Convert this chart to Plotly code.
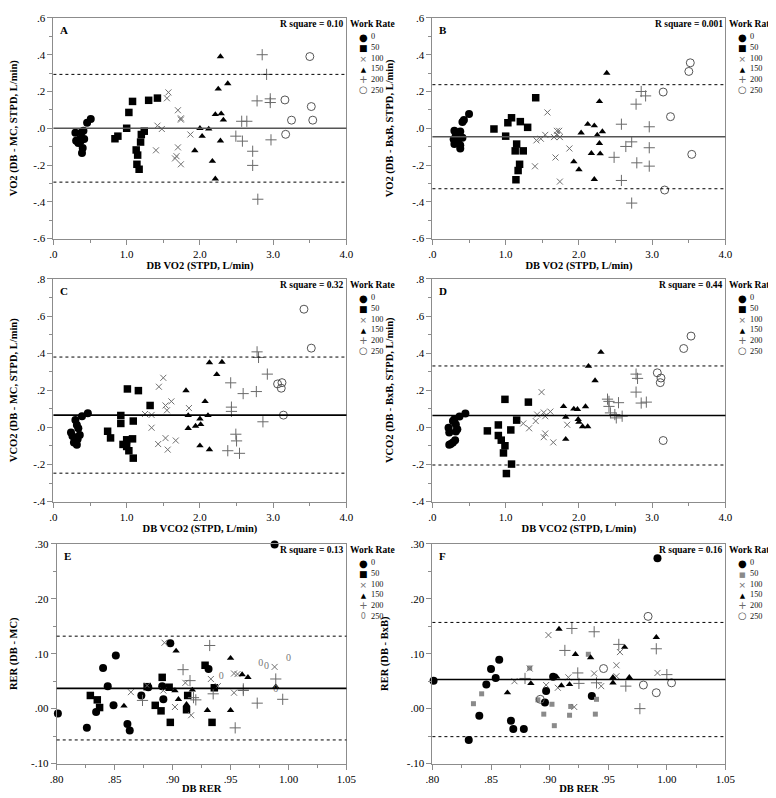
import plotly.graph_objects as go
from plotly.subplots import make_subplots

# work rate groups
GROUPS = ["0", "50", "100", "150", "200", "250"]

# panel A: VO2, DB - MC
A_X = [
    [0.51, 0.46, 0.41, 0.38, 0.30, 0.42, 0.31, 0.34, 0.37, 0.40, 0.39, 0.36],
    [1.08, 1.03, 1.30, 1.42, 1.00, 0.88, 0.84, 1.24, 1.20, 1.19, 1.13, 1.15, 1.14, 1.17],
    [1.57, 1.55, 1.70, 1.74, 1.74, 1.42, 1.48, 1.87, 1.40, 1.70, 1.68, 1.66, 1.74],
    [2.28, 2.38, 2.25, 2.21, 2.29, 2.32, 2.00, 2.12, 2.03, 2.28, 1.93, 2.17, 2.21],
    [2.85, 2.91, 2.78, 2.96, 2.96, 2.57, 2.64, 2.49, 2.58, 2.72, 2.72, 2.97, 2.79],
    [3.50, 3.16, 3.52, 3.25, 3.54, 3.17],
]
A_Y = [
    [0.050, 0.030, -0.013, -0.025, -0.025, -0.059, -0.068, -0.080, -0.071, -0.107, -0.134, -0.060],
    [0.146, 0.086, 0.152, 0.164, 0.000, -0.043, -0.057, -0.016, -0.034, -0.075, -0.118, -0.146, -0.196, -0.223],
    [0.195, 0.163, 0.098, 0.054, 0.047, 0.014, -0.004, -0.034, -0.120, -0.104, -0.152, -0.164, -0.196],
    [0.390, 0.243, 0.214, 0.075, 0.079, 0.045, 0.000, -0.004, -0.043, -0.068, -0.121, -0.179, -0.275],
    [0.400, 0.293, 0.149, 0.160, 0.140, 0.038, 0.038, -0.043, -0.070, -0.125, -0.202, -0.063, -0.386],
    [0.390, 0.154, 0.118, 0.044, 0.044, -0.033],
]

# panel B: VO2, DB - BxB
B_X = [
    [0.50, 0.43, 0.41, 0.30, 0.38, 0.32, 0.41, 0.29, 0.35, 0.30, 0.38, 0.38],
    [1.41, 1.08, 1.03, 1.20, 1.30, 0.84, 1.00, 1.15, 1.13, 1.24, 1.19, 1.17, 1.14],
    [1.57, 1.54, 1.48, 1.42, 1.66, 1.70, 1.73, 1.70, 1.74, 1.87, 1.68, 1.40, 1.74],
    [2.38, 2.28, 2.12, 2.21, 2.03, 2.32, 2.25, 2.28, 2.17, 2.29, 1.93, 2.00, 2.21],
    [2.85, 2.91, 2.78, 2.58, 2.96, 2.72, 2.64, 2.96, 2.48, 2.79, 2.96, 2.58, 2.72],
    [3.52, 3.50, 3.15, 3.25, 3.54, 3.17],
]
B_Y = [
    [0.077, 0.045, 0.034, -0.014, -0.018, -0.036, -0.052, -0.060, -0.071, -0.086, -0.093, -0.110],
    [0.166, 0.057, 0.030, 0.036, 0.005, -0.004, -0.043, -0.086, -0.123, -0.123, -0.196, -0.230, -0.280],
    [0.086, -0.036, -0.057, -0.066, -0.048, -0.014, -0.014, -0.036, -0.048, -0.110, -0.159, -0.207, -0.290],
    [0.300, 0.146, 0.022, 0.014, -0.025, -0.018, -0.037, -0.082, -0.136, -0.138, -0.182, -0.225, -0.278],
    [0.200, 0.176, 0.131, 0.022, 0.008, -0.074, -0.099, -0.106, -0.158, -0.188, -0.206, -0.284, -0.407],
    [0.356, 0.309, 0.197, 0.063, -0.142, -0.336],
]

# panel C: VCO2, DB - MC
C_X = [
    [0.47, 0.39, 0.30, 0.32, 0.34, 0.24, 0.36, 0.26, 0.29, 0.33, 0.28, 0.32, 0.30],
    [1.01, 1.16, 1.32, 0.92, 0.92, 1.09, 0.74, 0.78, 1.00, 1.08, 0.95, 1.00, 1.03, 1.09],
    [1.50, 1.44, 1.61, 1.53, 1.55, 1.85, 1.25, 1.34, 1.34, 1.53, 1.67, 1.43, 1.56],
    [2.13, 2.30, 2.23, 1.81, 2.07, 1.84, 2.11, 2.00, 2.01, 1.94, 1.84, 2.00, 2.13],
    [2.78, 2.80, 2.92, 2.42, 2.59, 2.77, 2.43, 2.43, 2.86, 2.49, 2.50, 2.38, 2.54],
    [3.42, 3.52, 3.06, 3.12, 3.11, 3.14],
]
C_Y = [
    [0.076, 0.060, 0.039, 0.012, -0.005, -0.028, -0.041, -0.046, -0.060, -0.064, -0.081, -0.094, -0.073],
    [0.207, 0.198, 0.118, 0.064, 0.021, 0.034, -0.021, -0.057, -0.067, -0.062, -0.092, -0.103, -0.126, -0.166],
    [0.267, 0.219, 0.140, 0.118, 0.092, 0.104, 0.072, 0.067, -0.002, -0.058, -0.071, -0.090, -0.120],
    [0.349, 0.352, 0.285, 0.198, 0.140, 0.064, 0.064, 0.046, 0.016, 0.007, -0.005, -0.099, -0.120],
    [0.407, 0.377, 0.287, 0.240, 0.182, 0.193, 0.109, 0.086, 0.030, -0.037, -0.073, -0.126, -0.140],
    [0.637, 0.427, 0.234, 0.241, 0.211, 0.066],
]

# panel D: VCO2, DB - BxB
D_X = [
    [0.45, 0.37, 0.30, 0.28, 0.32, 0.22, 0.34, 0.23, 0.32, 0.31, 0.28, 0.23, 0.25],
    [0.99, 1.31, 1.15, 0.90, 0.75, 1.07, 0.90, 0.94, 0.99, 0.97, 1.08, 1.01],
    [1.49, 1.61, 1.52, 1.54, 1.43, 1.24, 1.41, 1.32, 1.84, 1.54, 1.52, 1.65],
    [2.30, 2.13, 2.22, 1.79, 1.93, 1.98, 2.09, 1.82, 1.99, 2.00, 2.05, 2.12, 1.82],
    [2.78, 2.80, 2.78, 2.92, 2.85, 2.54, 2.39, 2.41, 2.41, 2.43, 2.49, 2.51, 2.59],
    [3.53, 3.43, 3.07, 3.12, 3.11, 3.15],
]
D_Y = [
    [0.075, 0.059, 0.044, 0.034, 0.016, -0.002, -0.010, -0.028, -0.023, -0.069, -0.081, -0.094, -0.090],
    [0.151, 0.136, 0.039, 0.013, -0.019, -0.014, -0.044, -0.069, -0.099, -0.138, -0.198, -0.249],
    [0.190, 0.085, 0.080, 0.060, 0.069, 0.021, 0.034, -0.005, 0.014, -0.033, -0.053, -0.081],
    [0.405, 0.330, 0.252, 0.113, 0.099, 0.097, 0.112, 0.055, 0.043, 0.028, 0.004, 0.004, -0.064],
    [0.287, 0.264, 0.190, 0.136, 0.131, 0.133, 0.152, 0.140, 0.113, 0.078, 0.069, 0.051, 0.060],
    [0.492, 0.425, 0.294, 0.266, 0.241, -0.071],
]

# panel E: RER, DB - MC
E_X = [
    [0.898, 0.851, 0.840, 0.844, 0.879, 0.891, 0.931, 0.873, 0.892, 0.849, 0.834, 0.801, 0.861, 0.863, 0.826, 0.988],
    [0.928, 0.891, 0.897, 0.878, 0.936, 0.829, 0.835, 0.837, 0.913, 0.885, 0.890, 0.912, 0.898, 0.934],
    [0.893, 0.953, 0.956, 0.988, 0.933, 0.911, 0.939, 0.878, 0.892, 0.864, 0.953, 0.902, 0.916],
    [0.903, 0.950, 0.960, 0.965, 0.902, 0.917, 0.905, 0.989, 0.858, 0.912, 0.930, 0.950],
    [0.932, 0.909, 0.915, 0.961, 0.961, 0.989, 0.918, 0.920, 0.935, 0.874, 0.973, 0.995, 0.954],
    [0.976, 0.981, 1.000, 0.942, 0.989],
]
E_Y = [
    [0.119, 0.097, 0.074, 0.041, 0.039, 0.041, 0.072, 0.024, 0.017, 0.006, -0.006, -0.009, -0.028, -0.040, -0.035, 0.299],
    [0.079, 0.057, 0.039, 0.040, 0.038, 0.024, 0.016, 0.002, 0.024, 0.006, -0.004, -0.002, -0.025, -0.025],
    [0.120, 0.064, 0.063, 0.076, 0.054, 0.047, 0.041, 0.042, 0.033, 0.030, 0.029, 0.003, -0.012],
    [0.105, 0.092, 0.062, 0.057, 0.033, 0.034, 0.017, 0.040, 0.005, 0.008, -0.003, -0.003],
    [0.115, 0.071, 0.051, 0.036, 0.033, 0.054, 0.020, 0.016, 0.027, 0.015, 0.010, 0.017, -0.035],
    [0.082, 0.077, 0.092, 0.059, 0.034],
]

# panel F: RER, DB - BxB
F_X = [
    [0.801, 0.857, 0.850, 0.854, 0.846, 0.840, 0.867, 0.869, 0.878, 0.831, 0.903, 0.897, 0.896, 0.936, 0.992],
    [0.883, 0.933, 0.835, 0.842, 0.890, 0.902, 0.895, 0.904, 0.918, 0.917, 0.940, 0.939],
    [0.899, 0.960, 0.957, 0.883, 0.870, 0.916, 0.938, 0.957, 0.992, 0.897, 0.907, 0.944, 0.921],
    [0.991, 0.964, 0.922, 0.935, 0.906, 0.884, 0.864, 0.910, 0.917, 0.954, 0.954, 0.968, 0.908],
    [0.913, 0.959, 0.991, 0.879, 0.924, 0.925, 0.940, 0.965, 1.000, 0.977, 0.919, 0.938],
    [0.946, 0.980, 0.991, 1.004, 0.892, 0.984],
]
F_Y = [
    [0.051, 0.089, 0.072, 0.056, 0.044, -0.013, -0.022, -0.037, -0.037, -0.057, 0.058, 0.032, 0.011, 0.023, 0.274],
    [0.074, 0.099, 0.009, 0.027, 0.016, 0.008, -0.010, -0.031, 0.004, -0.012, 0.017, -0.010],
    [0.134, 0.103, 0.079, 0.073, 0.050, 0.057, 0.064, 0.059, 0.065, 0.043, 0.038, 0.041, 0.003],
    [0.130, 0.112, 0.099, 0.093, 0.058, 0.046, 0.029, 0.042, 0.044, 0.057, 0.047, 0.057, 0.145],
    [0.106, 0.117, 0.109, 0.055, 0.065, 0.046, 0.047, 0.041, 0.062, 0.000, 0.146, 0.140],
    [0.073, 0.043, 0.029, 0.047, 0.017, 0.168],
]

PANEL_X = [A_X, B_X, C_X, D_X, E_X, F_X]
PANEL_Y = [A_Y, B_Y, C_Y, D_Y, E_Y, F_Y]
LETTERS = ["A", "B", "C", "D", "E", "F"]
R_SQUARE = ["0.10", "0.001", "0.32", "0.44", "0.13", "0.16"]
MEAN_DIFF = [0.000, -0.046, 0.066, 0.064, 0.037, 0.053]
LOA_UPPER = [0.293, 0.237, 0.379, 0.331, 0.132, 0.157]
LOA_LOWER = [-0.293, -0.329, -0.247, -0.203, -0.057, -0.051]
Y_TITLES = ["VO2 (DB - MC, STPD, L/min)", "VO2 (DB - BxB, STPD, L/min)",
            "VCO2 (DB - MC, STPD, L/min)", "VCO2 (DB - BxB, STPD, L/min)",
            "RER (DB - MC)", "RER (DB - BxB)"]
X_TITLES = ["DB VO2 (STPD, L/min)", "DB VO2 (STPD, L/min)",
            "DB VCO2 (STPD, L/min)", "DB VCO2 (STPD, L/min)",
            "DB RER", "DB RER"]

VO2_XTICKS = [0.0, 1.0, 2.0, 3.0, 4.0]
RER_XTICKS = [0.80, 0.85, 0.90, 0.95, 1.00, 1.05]
VO2_YTICKS = [-0.6, -0.4, -0.2, 0.0, 0.2, 0.4, 0.6]
VCO2_YTICKS = [-0.4, -0.2, 0.0, 0.2, 0.4, 0.6, 0.8]
RER_YTICKS = [-0.10, 0.00, 0.10, 0.20, 0.30]

W, H = 776, 798
FONT = "Liberation Serif, Times New Roman, serif"
GRAY = "#8c8c8c"

# pixel boxes of each plot frame (left, right, top, bottom)
BOXES = [(38.3, 338.3, 4, 228), (426.3, 726.3, 4, 228),
         (38.3, 338.3, 269, 495), (426.3, 726.3, 269, 495),
         (41.7, 338.3, 538, 761), (426.3, 726.3, 538, 761)]


def fmt(v, d):
    s = f"{v:.{d}f}"
    if s.startswith("0."):
        s = s[1:]
    elif s.startswith("-0."):
        s = "-" + s[2:]
    return s


def marker_style(g, panel):
    if g == 0:
        return dict(symbol="circle", size=8, color="black")
    if g == 1:
        if panel == 5:
            return dict(symbol="square", size=5, color="#8a8a8a")
        return dict(symbol="square", size=7.5, color="black")
    if g == 2:
        return dict(symbol="x-thin", size=6, line=dict(color="#707070", width=1))
    if g == 3:
        return dict(symbol="triangle-up", size=6.5, color="black")
    if g == 4:
        return dict(symbol="cross-thin", size=8, line=dict(color="#6a6a6a", width=1))
    return dict(symbol="circle-open", size=8, color="#555555", line=dict(width=1))


fig = make_subplots(rows=3, cols=2)

for p in range(6):
    row, col = p // 2 + 1, p % 2 + 1
    for g in range(6):
        if p == 4 and g == 5:
            fig.add_trace(go.Scatter(
                x=PANEL_X[p][g], y=PANEL_Y[p][g], mode="text", text=["0"] * len(PANEL_X[p][g]),
                textfont=dict(family=FONT, size=10, color="#777777"),
                showlegend=False, cliponaxis=False), row=row, col=col)
        else:
            fig.add_trace(go.Scatter(
                x=PANEL_X[p][g], y=PANEL_Y[p][g], mode="markers",
                marker=marker_style(g, p), showlegend=False, cliponaxis=False),
                row=row, col=col)

    ax = "" if p == 0 else str(p + 1)
    left, right, top, bottom = BOXES[p]
    if p < 4:
        xt, xr, xd, xm = VO2_XTICKS, [0, 4], 1, 0.5
    else:
        xt, xr, xd, xm = RER_XTICKS, [0.80, 1.05], 2, 0.025
    if p < 2:
        yt, yr, yd, ym = VO2_YTICKS, [-0.6, 0.6], 1, 0.1
    elif p < 4:
        yt, yr, yd, ym = VCO2_YTICKS, [-0.4, 0.8], 1, 0.1
    else:
        yt, yr, yd, ym = RER_YTICKS, [-0.10, 0.30], 2, 0.05

    common = dict(showline=True, mirror=True, linecolor=GRAY, linewidth=1,
                  showgrid=False, zeroline=False, ticks="outside", ticklen=5,
                  tickcolor=GRAY, tickfont=dict(family=FONT, size=11, color="black"))
    fig.layout["xaxis" + ax].update(
        domain=[left / W, right / W], range=xr, tickvals=xt,
        ticktext=[fmt(v, xd) for v in xt],
        minor=dict(dtick=xm, tick0=xr[0], ticks="outside", ticklen=3, tickcolor=GRAY),
        title=dict(text="<b>" + X_TITLES[p] + "</b>", standoff=0,
                   font=dict(family=FONT, size=10.5, color="black")),
        **common)
    fig.layout["yaxis" + ax].update(
        domain=[1 - bottom / H, 1 - top / H], range=yr, tickvals=yt,
        ticktext=[fmt(v, yd) for v in yt],
        minor=dict(dtick=ym, tick0=yr[0], ticks="outside", ticklen=3, tickcolor=GRAY),
        title=dict(text="<b>" + Y_TITLES[p] + "</b>", standoff=16,
                   font=dict(family=FONT, size=10.5, color="black")),
        **common)

    xref = "x" + ax
    yref = "y" + ax
    mean_color = "#555555" if p < 2 else "black"
    fig.add_shape(type="line", xref=xref + " domain", yref=yref, x0=0, x1=1,
                  y0=MEAN_DIFF[p], y1=MEAN_DIFF[p], line=dict(color=mean_color, width=1.6))
    for lim in (LOA_UPPER[p], LOA_LOWER[p]):
        fig.add_shape(type="line", xref=xref + " domain", yref=yref, x0=0, x1=1,
                      y0=lim, y1=lim, line=dict(color="black", width=1, dash="dot"))

    dref = dict(xref=xref + " domain", yref=yref + " domain", showarrow=False, borderpad=0)
    fig.add_annotation(x=0, y=1, xanchor="left", yanchor="middle", xshift=6, yshift=-12,
                       text="<b>" + LETTERS[p] + "</b>",
                       font=dict(family=FONT, size=11, color="black"), **dref)
    fig.add_annotation(x=1, y=1, xanchor="right", yanchor="middle", xshift=-1, yshift=-6.5,
                       text="<b>R square = " + R_SQUARE[p] + "</b>",
                       font=dict(family=FONT, size=9.5, color="black"), **dref)
    fig.add_annotation(x=1, y=1, xanchor="left", yanchor="middle", xshift=3, yshift=-6,
                       text="<b>Work Rate</b>",
                       font=dict(family=FONT, size=9.5, color="black"), **dref)

    # legend: one column of symbols and one column of labels
    symbols = ["●", "■", "×", "▲", "+", "○"]
    sym_colors = ["black", "black", "#707070", "black", "#6a6a6a", "#555555"]
    sym_sizes = [10, 9, 9, 7, 10, 10]
    if p == 4:
        symbols[5] = "0"
        sym_colors[5] = "#777777"
        sym_sizes[5] = 8
    if p == 5:
        sym_colors[1] = "#8a8a8a"
        sym_sizes[1] = 7
    sym_text = "<br>".join(
        f"<span style='color:{c};font-size:{s}px'>{t}</span>"
        for t, c, s in zip(symbols, sym_colors, sym_sizes))
    center = -(19.3 + 2.5 * 10.5)
    fig.add_annotation(x=1, y=1, xanchor="center", yanchor="middle", xshift=17, yshift=center,
                       text=sym_text, align="center",
                       font=dict(family="DejaVu Sans", size=8, color="black"), **dref)
    fig.add_annotation(x=1, y=1, xanchor="left", yanchor="middle", xshift=24, yshift=center,
                       text="<br>".join(GROUPS), align="left",
                       font=dict(family=FONT, size=8.3, color="#111111"), **dref)

fig.update_layout(width=W, height=H, margin=dict(l=0, r=0, t=0, b=0),
                  plot_bgcolor="white", paper_bgcolor="white", showlegend=False,
                  font=dict(family=FONT, color="black"))

fig.write_html("out.html")
